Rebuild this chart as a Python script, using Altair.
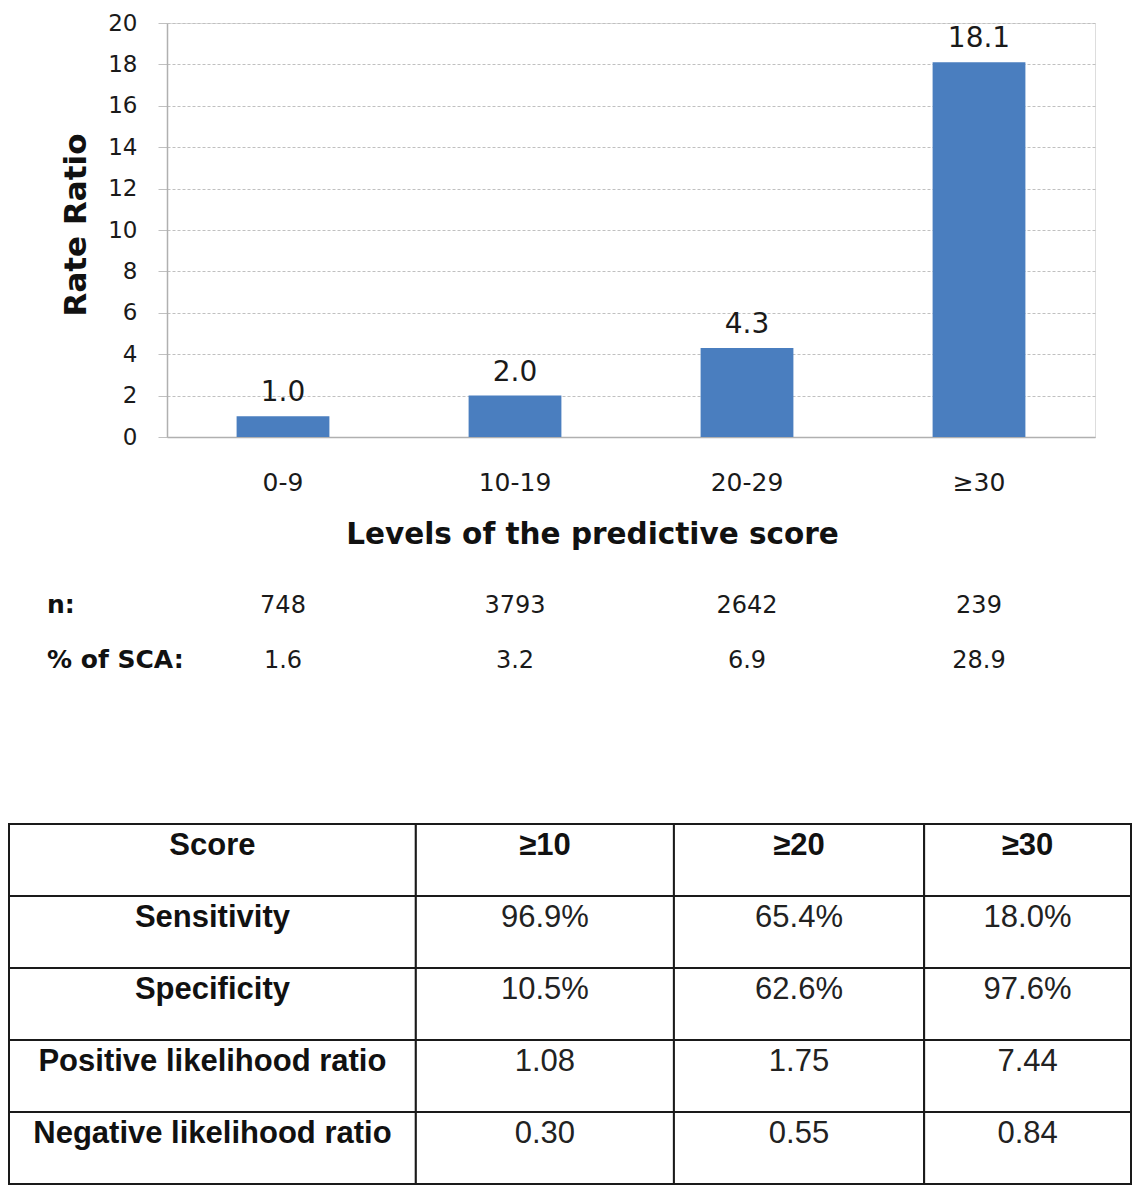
import altair as alt
import pandas as pd

# ---------------- data ----------------
categories = ["0-9", "10-19", "20-29", "≥30"]
rate_ratio = [1.0, 2.0, 4.3, 18.1]
n_values = [748, 3793, 2642, 239]
pct_sca = [1.6, 3.2, 6.9, 28.9]
y_ticks = [0, 2, 4, 6, 8, 10, 12, 14, 16, 18, 20]
row_labels = ["n:", "% of SCA:"]

table_header = ["Score", "≥10", "≥20", "≥30"]
row_names = ["Sensitivity", "Specificity", "Positive likelihood ratio", "Negative likelihood ratio"]
sensitivity = ["96.9%", "65.4%", "18.0%"]
specificity = ["10.5%", "62.6%", "97.6%"]
pos_lr = ["1.08", "1.75", "7.44"]
neg_lr = ["0.30", "0.55", "0.84"]

# ---------------- layout / style ----------------
BLUE = "#4a7ebf"
FONT = "DejaVu Sans"
TFONT = "Liberation Sans"
col_widths = [413, 262, 254, 210]

bars_df = pd.DataFrame({
    "cat": categories,
    "rr": rate_ratio,
    "label": [f"{v:.1f}" for v in rate_ratio],
    "n": [str(v) for v in n_values],
    "pct": [f"{v:.1f}" for v in pct_sca],
})

xscale = alt.Scale(domain=categories, paddingInner=0.6, paddingOuter=0.3)
X = alt.X("cat:N", sort=categories, scale=xscale,
          axis=alt.Axis(title="Levels of the predictive score", labelAngle=0,
                        labelFont=FONT, labelFontSize=25, labelColor="#1a1a1a",
                        labelBaseline="alphabetic", labelPadding=53,
                        ticks=False, tickSize=0,
                        domainColor="#b0b0b0", domainWidth=1.5,
                        titleFont=FONT, titleFontSize=29.5, titleFontWeight="bold",
                        titleColor="#111", titleBaseline="alphabetic",
                        titleX=425, titleY=106, titleAlign="center"))
Y = alt.Y("rr:Q", scale=alt.Scale(domain=[0, 20], nice=False),
          axis=alt.Axis(title="Rate Ratio", values=y_ticks,
                        labelFont=FONT, labelFontSize=23, labelColor="#1a1a1a",
                        labelPadding=21, tickSize=9, tickColor="#c0c0c0",
                        domainColor="#b0b0b0", domainWidth=1.5,
                        grid=True, gridColor="#c0c0c0", gridDash=[3, 2],
                        titleFont=FONT, titleFontSize=31, titleFontWeight="bold",
                        titleColor="#111", titleAngle=270, titleBaseline="middle",
                        titleAlign="center", titleX=-91, titleY=201.5))

base = alt.Chart(bars_df)
bars = base.mark_bar(color=BLUE).encode(x=X, y=Y)
bar_text = base.mark_text(font=FONT, fontSize=28, color="#1a1a1a",
                          baseline="alphabetic", dy=-15).encode(
    x=alt.X("cat:N", sort=categories), y="rr:Q", text="label:N")
n_text = base.mark_text(font=FONT, fontSize=24, color="#1a1a1a",
                        baseline="alphabetic").encode(
    x=alt.X("cat:N", sort=categories), y=alt.value(590), text="n:N")
pct_text = base.mark_text(font=FONT, fontSize=24, color="#1a1a1a",
                          baseline="alphabetic").encode(
    x=alt.X("cat:N", sort=categories), y=alt.value(645), text="pct:N")

lab_n = alt.Chart(pd.DataFrame({"t": [row_labels[0]]})).mark_text(
    font=FONT, fontSize=25, fontWeight="bold", color="#111",
    align="left", baseline="alphabetic").encode(
    x=alt.value(-120), y=alt.value(590), text="t:N")
lab_pct = alt.Chart(pd.DataFrame({"t": [row_labels[1]]})).mark_text(
    font=FONT, fontSize=25, fontWeight="bold", color="#111",
    align="left", baseline="alphabetic").encode(
    x=alt.value(-120), y=alt.value(645), text="t:N")

top = alt.layer(bars, bar_text, n_text, pct_text, lab_n, lab_pct)

# ---------------- table ----------------
edges = [0]
for w in col_widths:
    edges.append(edges[-1] + w)

row_order = ["Score"] + row_names
body = [table_header[1:], sensitivity, specificity, pos_lr, neg_lr]
recs = []
for r, rname in enumerate(row_order):
    cells = [rname] + body[r]
    for c, txt in enumerate(cells):
        recs.append({
            "row": rname, "x0": edges[c], "x1": edges[c + 1],
            "xc": (edges[c] + edges[c + 1]) / 2, "text": txt,
            "bold": (r == 0 or c == 0),
        })
tbl_df = pd.DataFrame(recs)

tx = alt.Scale(domain=[0, edges[-1]], range=[-158, 964], nice=False, zero=False)
ty = alt.Scale(domain=row_order, range=[801, 1161], paddingInner=0, paddingOuter=0)

tbase = alt.Chart(tbl_df)
cells = tbase.mark_rect(fill="white", stroke="#1a1a1a", strokeWidth=2).encode(
    x=alt.X("x0:Q", scale=tx, axis=None), x2="x1:Q",
    y=alt.Y("row:N", sort=row_order, scale=ty, axis=None))
tbold = tbase.transform_filter("datum.bold").mark_text(
    font=TFONT, fontSize=31, fontWeight="bold", color="#111",
    baseline="alphabetic", dy=-5).encode(
    x="xc:Q", y=alt.Y("row:N", sort=row_order), text="text:N")
tnorm = tbase.transform_filter("!datum.bold").mark_text(
    font=TFONT, fontSize=31, color="#222",
    baseline="alphabetic", dy=-5).encode(
    x="xc:Q", y=alt.Y("row:N", sort=row_order), text="text:N")

table = alt.layer(cells, tbold, tnorm)

chart = alt.layer(top, table).resolve_scale(
    x="independent", y="independent"
).properties(
    width=928, height=414,
    padding={"left": 159, "top": 15, "right": 37, "bottom": 748},
    autosize=alt.AutoSizeParams(type="none"),
).configure_view(stroke=None).configure(background="white")

chart.save("out.html", embed_options={"renderer": "svg", "actions": False})
